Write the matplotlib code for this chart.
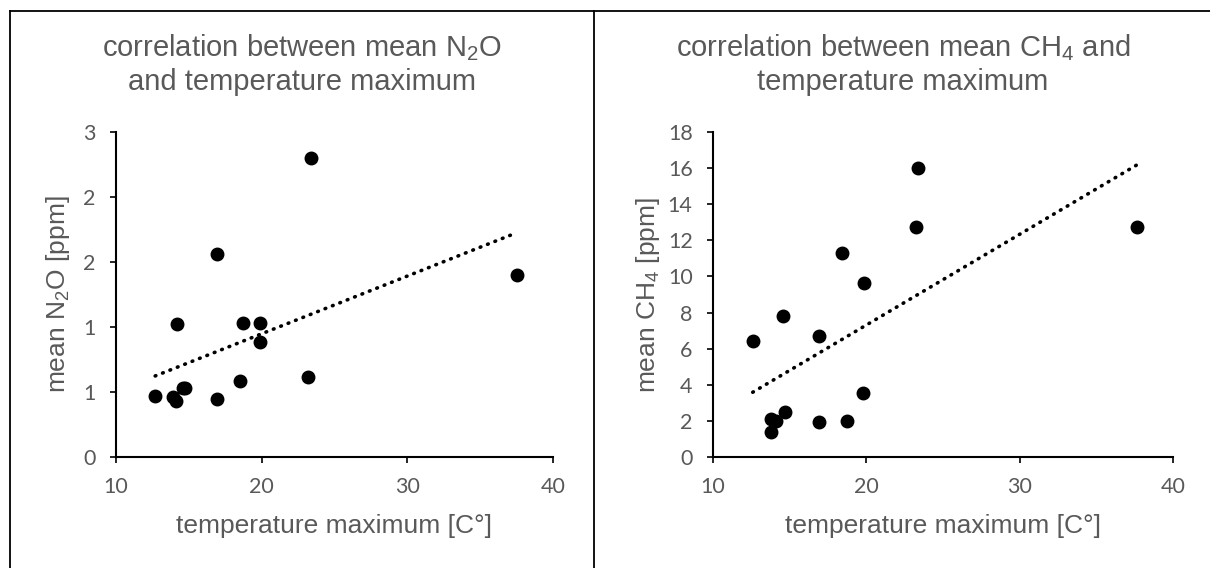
import numpy as np
import matplotlib
matplotlib.use("Agg")
import matplotlib.pyplot as plt
from matplotlib.lines import Line2D
from matplotlib.ticker import FuncFormatter

plt.rcParams['mathtext.fontset'] = 'custom'
plt.rcParams['mathtext.rm'] = 'Liberation Sans'
plt.rcParams['mathtext.it'] = 'Liberation Sans:italic'

# data
temp_n2o = [12.69, 13.9, 14.11, 14.18, 14.59, 14.75, 16.96, 16.96,
            18.49, 18.74, 19.89, 19.86, 23.42, 23.19, 37.53]
n2o = [0.566, 0.551, 0.514, 1.224, 0.636, 0.636, 1.873, 0.539,
       0.704, 1.233, 1.233, 1.065, 2.761, 0.740, 1.683]

temp_ch4 = [12.61, 13.81, 13.81, 14.12, 14.55, 14.71, 16.95, 16.95,
            18.43, 18.78, 19.85, 19.81, 23.22, 23.40, 37.65]
ch4 = [6.44, 2.10, 1.37, 1.97, 7.80, 2.51, 6.70, 1.96,
       11.31, 1.97, 9.65, 3.52, 12.75, 16.0, 12.76]

n2o_yticks = np.arange(0, 3.01, 0.6)
ch4_yticks = np.arange(0, 18.01, 2)
x_ticks = [10, 20, 30, 40]

grey = '#595959'
W, H = 1210, 568
fig = plt.figure(figsize=(W / 100, H / 100), dpi=100)


def px(x, y):
    return x / W, 1 - y / H


def panel(left, right, xs, ys, yticks, ylabel, title1, title2, tcx, ylx):
    x0, y0 = px(left, 457)
    x1, y1 = px(right, 132)
    ax = fig.add_axes([x0, y0, x1 - x0, y1 - y0])
    ax.plot(xs, ys, 'o', color='black', ms=9, zorder=3)
    # linear trendline like Excel
    k, b = np.polyfit(xs, ys, 1)
    tx = np.array([min(xs), max(xs)])
    ax.plot(tx, k * tx + b, color='black', lw=2.6,
            dashes=(0.2, 2.0), dash_capstyle='round')
    ax.set_xlim(10, 40)
    ax.set_ylim(yticks[0], yticks[-1])
    ax.set_xticks(x_ticks)
    ax.set_yticks(yticks)
    ax.yaxis.set_major_formatter(FuncFormatter(lambda v, p: f'{v:.0f}'))
    for s in ['top', 'right']:
        ax.spines[s].set_visible(False)
    for s in ['left', 'bottom']:
        ax.spines[s].set_linewidth(1.5)
    ax.tick_params(direction='out', length=4.5, width=1.2, colors='black',
                   labelcolor=grey, labelsize=15.5)
    ax.tick_params(axis='y', pad=10)
    ax.tick_params(axis='x', pad=10)
    for lab in ax.get_xticklabels() + ax.get_yticklabels():
        lab.set_fontfamily('Lato')
    ax.patch.set_alpha(0)
    # axis titles
    fig.text(*px((left + right) / 2, 526), 'temperature maximum [C°]',
             ha='center', va='center', fontsize=19, color=grey,
             family='Liberation Sans')
    fig.text(*px(ylx, 294.5), ylabel, ha='center', va='center',
             rotation=90, fontsize=19, color=grey, family='Liberation Sans')
    # chart title in two lines
    fig.text(*px(tcx, 48), title1, ha='center', va='center', fontsize=21,
             color=grey, family='Liberation Sans')
    fig.text(*px(tcx, 82), title2, ha='center', va='center', fontsize=21,
             color=grey, family='Liberation Sans')
    return ax


panel(116, 553, temp_n2o, n2o, n2o_yticks, r'mean N$_2$O [ppm]',
      r'correlation between mean N$_2$O', 'and temperature maximum', 301.5, 58)
panel(712.7, 1173, temp_ch4, ch4, ch4_yticks, r'mean CH$_4$ [ppm]',
      r'correlation between mean CH$_4$ and', 'temperature maximum', 903, 648)

# frame lines of the pasted Excel charts
for xa, ya in [([9.5, W], [10.5, 10.5]), ([9.5, 9.5], [10.5, H]),
               ([593.5, 593.5], [10.5, H])]:
    fig.add_artist(Line2D([v / W for v in xa], [1 - v / H for v in ya],
                          color='black', lw=1.3))

fig.savefig('out.png', dpi=100)
